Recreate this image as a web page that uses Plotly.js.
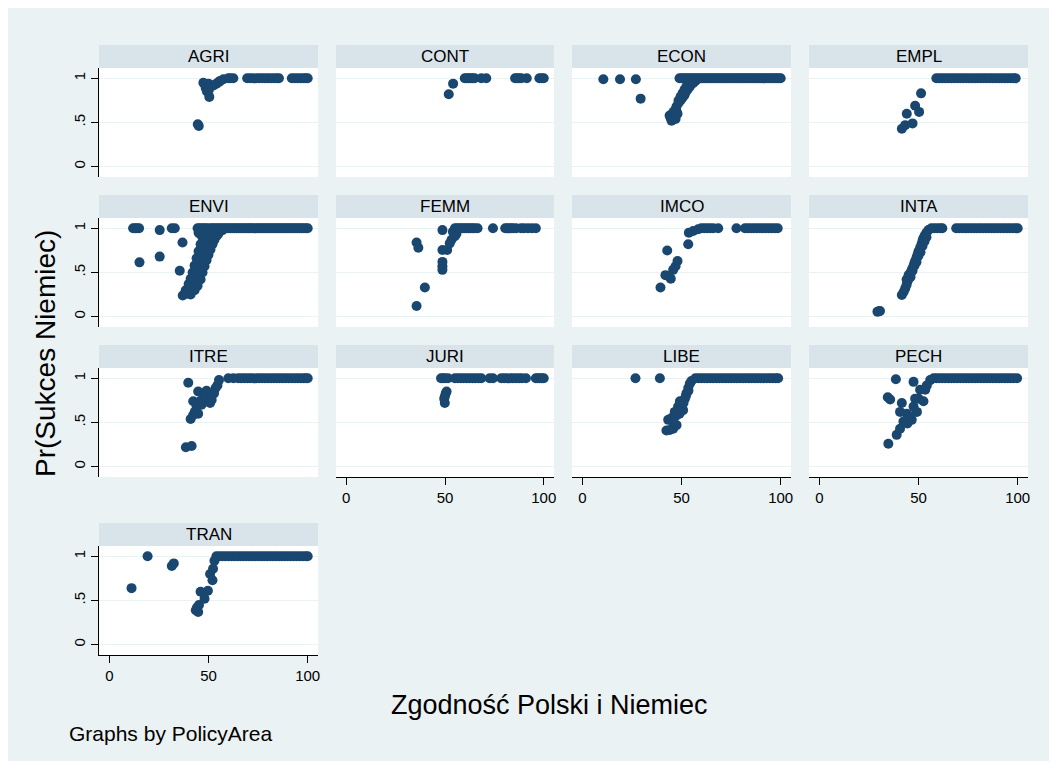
<!DOCTYPE html>
<html>
<head>
<meta charset="utf-8">
<script src="https://cdn.plot.ly/plotly-3.0.1.min.js"></script>
<style>html,body{margin:0;padding:0;background:#fff;}#chart{width:1057px;height:769px;}</style>
</head>
<body>
<div id="chart"></div>
<script>
// ---------------- DATA ----------------
const panelNames = ['AGRI','CONT','ECON','EMPL','ENVI','FEMM','IMCO','INTA','ITRE','JURI','LIBE','PECH','TRAN'];
const xTickVals = [0, 50, 100];
const xTickText = ['0', '50', '100'];
const yTickVals = [0, 0.5, 1];
const yTickText = ['0', '.5', '1'];
const xTitle = 'Zgodność Polski i Niemiec';
const yTitle = 'Pr(Sukces Niemiec)';
const noteText = 'Graphs by PolicyArea';

const agriX = [44.6,45.1,47.4,48.2,48.6,49.2,50.2,50.4,50,52.5,54,55.3,55.8,57.5,
  60,61,62.5,69.5,71,72.5,74,75.5,77,78.5,80,81.5,83,84.5,85.5,92,93.5,95,96.5,98,99,100];
const agriY = [0.48,0.46,0.95,0.93,0.89,0.85,0.87,0.79,0.94,0.92,0.94,0.96,0.97,0.99,
  1,1,1,1,1,1,1,1,1,1,1,1,1,1,1,1,1,1,1,1,1,1];

const contX = [51.9,54.1,60,61,62,63,64,65,68.4,70.9,85.5,86.5,87.5,88.6,91.4,97.8,99,100];
const contY = [0.82,0.94,1,1,1,1,1,1,1,1,1,1,1,1,1,1,1,1];

const econX = [10.6,19,27,29.4,
  44,44.5,45,45.5,46,46.5,47,47.5,45,46,47,48,
  47.5,48.5,49.5,50.5,51.5,52,53,54,55,56,57,58,
  48.5,49.5,50.5,51.5,52.5,53.5,54.5,
  49,50,51,52,53,54,55,56,57,58,59,60,61,62,63,64,65,66,67,68,69,70,71,72,73,74,75,76,77,78,79,80,
  81,82,83,84,85,86,87,88,89,90,91,92,93,94,95,96,97,98,99,100];
const econY = [0.99,0.99,0.99,0.77,
  0.58,0.55,0.52,0.6,0.55,0.58,0.54,0.62,0.57,0.62,0.65,0.6,
  0.68,0.72,0.75,0.78,0.81,0.84,0.87,0.9,0.93,0.95,0.97,0.99,
  0.75,0.79,0.83,0.87,0.91,0.94,0.97,
  1,1,1,1,1,1,1,1,1,1,1,1,1,1,1,1,1,1,1,1,1,1,1,1,1,1,1,1,1,1,1,1,
  1,1,1,1,1,1,1,1,1,1,1,1,1,1,1,1,1,1,1,1];

const emplX = [41.6,43.3,44.1,47,48.3,50.3,51.3,
  59,60.5,62,63.5,65,66.5,68,69.5,71,72.5,74,75.5,77,78.5,80,81.5,83,84.5,86,87.5,89,90.5,92,93.5,95,96.5,98,99];
const emplY = [0.43,0.47,0.6,0.49,0.69,0.62,0.83,
  1,1,1,1,1,1,1,1,1,1,1,1,1,1,1,1,1,1,1,1,1,1,1,1,1,1,1,1];

const enviX = [12,13,14,15,15.2,25.4,25.4,31.5,33,36.9,35.5,
  37,38.5,40,41,42,43,44,45,46,47,47,
  39,40.5,42,43,44,45,46,47,48,49,50,51,52,
  41,43,44.5,46,47,48,49,50,51,52,53,54,55,56,57,
  44.5,45.5,46.5,47.5,48.5,49.5,45,46,47,48,49,50,
  51,52,53,54,55,56,57,58,59,60,61,62,63,64,65,66,67,68,69,70,71,72,73,74,75,76,77,78,79,80,
  81,82,83,84,85,86,87,88,89,90,91,92,93,94,95,96,97,98,99,100];
const enviY = [1,1,1,1,0.615,0.98,0.68,1,1,0.84,0.52,
  0.24,0.3,0.37,0.43,0.5,0.58,0.66,0.74,0.82,0.9,0.96,
  0.26,0.31,0.36,0.42,0.48,0.55,0.62,0.69,0.76,0.82,0.88,0.92,0.95,
  0.25,0.3,0.35,0.42,0.5,0.57,0.64,0.7,0.76,0.82,0.87,0.91,0.94,0.97,0.98,
  1,1,1,1,1,1,0.95,0.93,0.96,0.92,0.97,0.98,
  1,1,1,1,1,1,1,1,1,1,1,1,1,1,1,1,1,1,1,1,1,1,1,1,1,1,1,1,1,1,
  1,1,1,1,1,1,1,1,1,1,1,1,1,1,1,1,1,1,1,1];

const femmX = [35.6,36.5,39.8,35.6,48.7,48.7,51.1,48.7,48.7,48.7,52.4,53.3,55,55.8,54,
  55,56,57,58,59,60,61,62,63,64,65,66.5,74.3,80.5,81.5,82.5,83.5,84.5,86,88.5,90,92,94,96];
const femmY = [0.84,0.78,0.33,0.12,0.98,0.755,0.755,0.62,0.57,0.53,0.83,0.87,0.91,0.94,0.96,
  1,1,1,1,1,1,1,1,1,1,1,1,1,1,1,1,1,1,1,1,1,1,1,1];

const imcoX = [39.4,42.8,41.9,44.6,45.8,47,48,43.6,53.4,53.7,55.9,
  58.4,60,61.5,63,64.5,66,68.5,77.7,82,83.5,85,86.5,88,89.5,91,92.5,94,95.5,97,98.5];
const imcoY = [0.33,0.75,0.47,0.43,0.53,0.57,0.63,0.46,0.82,0.95,0.97,
  0.99,1,1,1,1,1,1,1,1,1,1,1,1,1,1,1,1,1,1,1];

const intaX = [29.3,30.6,30,
  41.6,42.5,43.3,44,44.5,45,45.5,46,46.6,47.2,47.8,48.3,49,49.5,50,50.8,51.5,52,52.5,53.2,54,
  44,45,46,47,48,49,50,51,52,53,54,
  55,56.5,58,59.5,61,62,69,70.5,72,73.5,75,76.5,78,79.5,81,82.5,84,85.5,87,88.5,90,91.5,93,94.5,96,97.5,99,100];
const intaY = [0.057,0.064,0.06,
  0.245,0.28,0.32,0.36,0.4,0.43,0.46,0.5,0.53,0.56,0.6,0.63,0.67,0.7,0.74,0.78,0.82,0.86,0.89,0.92,0.95,
  0.42,0.47,0.45,0.52,0.58,0.62,0.69,0.73,0.8,0.85,0.9,
  0.98,1,1,1,1,1,1,1,1,1,1,1,1,1,1,1,1,1,1,1,1,1,1,1,1,1,1,1];

const itreX = [38.6,41.5,39.8,41,42.3,43.1,44,42.3,44.8,45.7,47.4,49,50.8,51.6,52.8,53.6,54.5,55.3,44.8,46.5,49,51.6,
  60,62.6,65,66.5,68,69.5,71,72.5,74,75.5,77,78.5,80,81.5,83,84.5,86,87.5,89,90.5,92,93.5,95,96.5,98,99,100];
const itreY = [0.22,0.234,0.95,0.54,0.585,0.62,0.68,0.74,0.85,0.74,0.77,0.86,0.72,0.755,0.83,0.89,0.92,0.98,0.6,0.7,0.79,0.81,
  1,1,1,1,1,1,1,1,1,1,1,1,1,1,1,1,1,1,1,1,1,1,1,1,1,1,1,1,1];

const juriX = [49.9,49.6,50.4,50.8,50,
  48,49,50,51.5,55,56.5,58,59.5,61,62.5,64,65.5,67,68.4,72.6,74.3,78.5,80,81.5,83,84.5,86,87.5,89,91,96,97,98,99,100];
const juriY = [0.72,0.77,0.83,0.85,0.8,
  1,1,1,1,1,1,1,1,1,1,1,1,1,1,1,1,1,1,1,1,1,1,1,1,1,1,1,1,1,1];

const libeX = [26.8,39.1,42.4,44.1,45.8,47.5,43.3,45,46.6,48.3,49.2,50.8,51.7,52.5,53.4,54.2,55,
  46,47.5,49,50,51,52.2,53.5,
  57,58.5,60,61.5,63,64.5,66,67.5,69,70.5,72,73.5,75,76.5,78,79.5,81,82.5,84,85.5,87,88.5,90,91.5,93,94.5,96,97.5,98.7];
const libeY = [1,1,0.41,0.415,0.43,0.47,0.53,0.55,0.62,0.68,0.74,0.64,0.77,0.83,0.89,0.94,0.97,
  0.5,0.58,0.6,0.7,0.72,0.8,0.86,
  1,1,1,1,1,1,1,1,1,1,1,1,1,1,1,1,1,1,1,1,1,1,1,1,1,1,1,1,1];

const pechX = [34.8,38.6,34.5,35.7,41.6,47.5,39,40.7,42.4,40.7,44.1,45.8,47.5,49.2,50,52.5,48.3,50.8,53.4,54.2,55.9,46.6,44.4,
  57.6,59,60.5,62,63.5,65,66.5,68,69.5,71,72.5,74,75.5,77,78.5,80,81.5,83,84.5,86,87.5,89,90.5,92,93.5,95,96.5,98,99.7];
const pechY = [0.26,0.99,0.785,0.76,0.72,0.96,0.36,0.43,0.51,0.62,0.6,0.57,0.68,0.62,0.77,0.74,0.77,0.87,0.87,0.92,0.98,0.53,0.49,
  1,1,1,1,1,1,1,1,1,1,1,1,1,1,1,1,1,1,1,1,1,1,1,1,1,1,1,1,1];

const tranX = [11.2,19.3,31.5,32.5,43.6,44.2,45.2,44.8,46,48,49.7,50.8,52.3,52,53,54,
  55.5,57,58.5,60,61.5,63,64.5,66,67.5,69,70.5,72,73.5,75,76.5,78,79.5,81,82.5,84,85.5,87,88.5,90,91.5,93,94.5,96,97.5,99,100];
const tranY = [0.64,1,0.89,0.92,0.39,0.42,0.45,0.37,0.6,0.52,0.61,0.8,0.86,0.73,0.95,1,
  1,1,1,1,1,1,1,1,1,1,1,1,1,1,1,1,1,1,1,1,1,1,1,1,1,1,1,1,1,1,1];

const panelX = [agriX,contX,econX,emplX,enviX,femmX,imcoX,intaX,itreX,juriX,libeX,pechX,tranX];
const panelY = [agriY,contY,econY,emplY,enviY,femmY,imcoY,intaY,itreY,juriY,libeY,pechY,tranY];

// ---------------- LAYOUT ----------------
const W = 1057, H = 769;
const colsPx = [[99,318],[336,554],[572,791],[809,1028]];
const rowsPx = [[45,68,177],[195,218,327],[345,368,477],[523,546,655]]; // header top, plot top, plot bottom
const FONT = 'Arial, "Liberation Sans", sans-serif';
const markerColor = '#1A476F';
const bgColor = '#EAF2F3';
const headerColor = '#D9E4EA';

const traces = [];
const layout = {
  width: W, height: H,
  margin: {l:0, r:0, t:0, b:0},
  paper_bgcolor: '#FFFFFF',
  plot_bgcolor: 'rgba(0,0,0,0)',
  showlegend: false,
  font: {family: FONT, color: '#000'},
  shapes: [],
  annotations: []
};

layout.shapes.push({type:'rect', xref:'paper', yref:'paper', x0:8/W, x1:1-8/W, y0:8/H, y1:1-8/H,
  fillcolor:bgColor, line:{width:0}, layer:'below'});

panelNames.forEach((name, i) => {
  const r = Math.floor(i/4), c = i%4;
  const sfx = i === 0 ? '' : String(i+1);
  const showX = (r === 2 && c > 0) || r === 3;
  const showY = c === 0;
  traces.push({
    type:'scatter', mode:'markers', x: panelX[i], y: panelY[i],
    xaxis:'x'+sfx, yaxis:'y'+sfx,
    marker:{size:10, color:markerColor, line:{width:0}},
    hoverinfo:'skip'
  });
  const [cl, cr] = colsPx[c];
  const [ht, pt, pb] = rowsPx[r];
  layout['xaxis'+sfx] = {
    domain:[cl/W, cr/W], anchor:'y'+sfx, range:[-5.2,105.2],
    showgrid:false, zeroline:false,
    showline:showX, linecolor:'#000', linewidth:1,
    ticks: showX ? 'outside' : '', ticklen:7, tickwidth:1, tickcolor:'#000',
    tickmode:'array', tickvals:xTickVals, ticktext:xTickText,
    showticklabels:showX, tickfont:{family:FONT, size:15, color:'#000'},
    fixedrange:true
  };
  layout['yaxis'+sfx] = {
    domain:[1-pb/H, 1-pt/H], anchor:'x'+sfx, range:[-0.117,1.117],
    showgrid:true, gridcolor:bgColor, gridwidth:1.5, zeroline:false,
    showline:showY, linecolor:'#000', linewidth:1,
    ticks: showY ? 'outside' : '', ticklen:7, tickwidth:1, tickcolor:'#000',
    tickmode:'array', tickvals:yTickVals, ticktext:yTickText, tickangle:-90,
    showticklabels:showY, tickfont:{family:FONT, size:15, color:'#000'},
    fixedrange:true
  };
  // white plot area
  layout.shapes.push({type:'rect', xref:'paper', yref:'paper', x0:cl/W, x1:cr/W, y0:1-pb/H, y1:1-pt/H,
    fillcolor:'#FFFFFF', line:{width:0}, layer:'below'});
  // header strip
  layout.shapes.push({type:'rect', xref:'paper', yref:'paper', x0:cl/W, x1:cr/W, y0:1-pt/H, y1:1-ht/H,
    fillcolor:headerColor, line:{width:0}, layer:'below'});
  layout.annotations.push({xref:'paper', yref:'paper', x:(cl+cr)/2/W, y:1-(ht+pt)/2/H,
    text:name, showarrow:false, xanchor:'center', yanchor:'middle',
    font:{family:FONT, size:17, color:'#000'}});
});

layout.annotations.push({xref:'paper', yref:'paper', x:46/W, y:1-354/H, text:yTitle, textangle:-90,
  showarrow:false, xanchor:'center', yanchor:'middle', font:{family:FONT, size:28, color:'#000'}});
layout.annotations.push({xref:'paper', yref:'paper', x:549/W, y:1-705/H, text:xTitle,
  showarrow:false, xanchor:'center', yanchor:'middle', font:{family:FONT, size:27, color:'#000'}});
layout.annotations.push({xref:'paper', yref:'paper', x:67/W, y:1-733/H, text:noteText,
  showarrow:false, xanchor:'left', yanchor:'middle', font:{family:FONT, size:21, color:'#000'}});

Plotly.newPlot('chart', traces, layout, {staticPlot:true, displayModeBar:false});
</script>
</body>
</html>
